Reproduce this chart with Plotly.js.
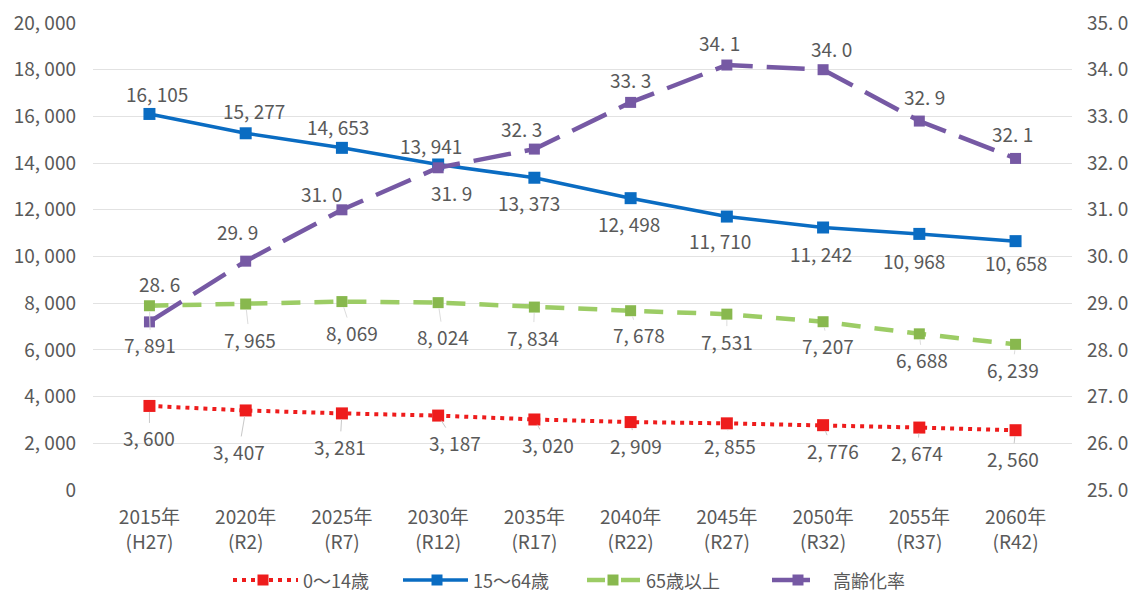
<!DOCTYPE html>
<html>
<head>
<meta charset="utf-8">
<script src="https://cdn.plot.ly/plotly-3.0.1.min.js"></script>
<style>
  html, body { margin: 0; padding: 0; background: #fff; }
  #chart { width: 1138px; height: 594px; }
</style>
</head>
<body>
<div id="chart"></div>
<script>
// 年次（上段：西暦、下段：和暦）
const years = ['2015年', '2020年', '2025年', '2030年', '2035年', '2040年', '2045年', '2050年', '2055年', '2060年'];
const eras = ['(H27)', '(R2)', '(R7)', '(R12)', '(R17)', '(R22)', '(R27)', '(R32)', '(R37)', '(R42)'];

// 年齢区分別人口（人）
const pop0to14 = [3600, 3407, 3281, 3187, 3020, 2909, 2855, 2776, 2674, 2560];
const pop15to64 = [16105, 15277, 14653, 13941, 13373, 12498, 11710, 11242, 10968, 10658];
const pop65plus = [7891, 7965, 8069, 8024, 7834, 7678, 7531, 7207, 6688, 6239];
// 高齢化率（％）
const agingRate = [28.6, 29.9, 31.0, 31.9, 32.3, 33.3, 34.1, 34.0, 32.9, 32.1];

const seriesNames = ['0～14歳', '15～64歳', '65歳以上', '高齢化率'];

// 左軸（人）・右軸（％）の目盛
const leftTicks = [0, 2000, 4000, 6000, 8000, 10000, 12000, 14000, 16000, 18000, 20000];
const rightTicks = [25, 26, 27, 28, 29, 30, 31, 32, 33, 34, 35];

// ---- 描画設定 ----
const W = 1138, H = 594;
const M = { l: 93, r: 66, t: 23, b: 104 };
const plotW = W - M.l - M.r, plotH = H - M.t - M.b;
const px2x = px => (px - M.l) / plotW;          // ページ座標 → paper x
const py2y = py => (H - M.b - py) / plotH;      // ページ座標 → paper y

const font = { family: '"Noto Sans CJK JP", "Noto Sans", sans-serif', color: '#595959', size: 19 };
const COLORS = { red: '#ee1c1c', blue: '#0a6cc2', green: '#9ccc65', greenMk: '#88b84e', purple: '#7659a4' };

const cats = years.map((y, i) => y + '<br>' + eras[i]);
const fmtInt = v => v.toLocaleString('en-US').replace(',', ', ');
const fmtDec = v => v.toFixed(1).replace('.', '. ');

// データラベルの位置ずらし（px、[右, 下]）
const offRed = [[0, 32], [-7, 41], [-2, 33], [17, 27], [14, 25], [5, 23], [3, 22], [10, 25], [-2, 25], [-3, 28]];
const offGreen = [[1, 39], [4, 35], [10, 31], [5, 34], [-1, 30], [8, 24], [0, 27], [5, 24], [3, 26], [-3, 25]];
const offBlue = [[8, -20], [8, -23], [-4, -21], [-7, -19], [-5, 25], [-2, 25], [-7, 24], [-2, 26], [-5, 27], [0, 21]];
const offPurple = [[10, -38], [-8, -30], [-20, -16], [13, 25], [-13, -21], [0, -23], [-7, -23], [8, -21], [5, -25], [-3, -25]];

const traces = [
  {
    x: cats, y: pop0to14, name: seriesNames[0], type: 'scatter', mode: 'lines+markers',
    line: { color: COLORS.red, width: 4, dash: '4px,5px' },
    marker: { symbol: 'square', size: 12, color: COLORS.red }
  },
  {
    x: cats, y: pop15to64, name: seriesNames[1], type: 'scatter', mode: 'lines+markers',
    line: { color: COLORS.blue, width: 3.5 },
    marker: { symbol: 'square', size: 12, color: COLORS.blue }
  },
  {
    x: cats, y: pop65plus, name: seriesNames[2], type: 'scatter', mode: 'lines+markers',
    line: { color: COLORS.green, width: 4.5, dash: '19px,14px' },
    marker: { symbol: 'square', size: 11, color: COLORS.greenMk }
  },
  {
    x: cats, y: agingRate, name: seriesNames[3], type: 'scatter', mode: 'lines+markers',
    yaxis: 'y2',
    line: { color: COLORS.purple, width: 4.5, dash: '38px,14px' },
    marker: { symbol: 'square', size: 11, color: COLORS.purple }
  }
];

// データラベル
const annotations = [];
function addLabels(values, offsets, fmt, yref, leader) {
  values.forEach((v, i) => {
    const [dx, dy] = offsets[i];
    const a = { x: cats[i], y: v, xref: 'x', yref: yref, text: fmt(v), font: font,
                xanchor: 'center', yanchor: 'middle' };
    if (leader) {
      Object.assign(a, { showarrow: true, ax: dx, ay: dy, arrowhead: 0, arrowwidth: 1,
                         arrowcolor: leader, standoff: 6 });
    } else {
      Object.assign(a, { showarrow: false, xshift: dx, yshift: -dy });
    }
    annotations.push(a);
  });
}
addLabels(pop0to14, offRed, fmtInt, 'y', '#c8c8c8');
addLabels(pop65plus, offGreen, fmtInt, 'y', '#dcdcdc');
addLabels(pop15to64, offBlue, fmtInt, 'y', null);
addLabels(agingRate, offPurple, fmtDec, 'y2', null);

// 凡例（線・マーカー・名称）
const legendY = 580;
const legendItems = [
  { segs: [[233, 298]], mk: 263, tx: 302, color: COLORS.red, mkColor: COLORS.red, width: 4, dash: '4px,5px' },
  { segs: [[403, 468]], mk: 437, tx: 472, color: COLORS.blue, mkColor: COLORS.blue, width: 3.5, dash: 'solid' },
  { segs: [[587, 605], [621, 640]], mk: 613, tx: 645, color: COLORS.green, mkColor: COLORS.greenMk, width: 4.5, dash: 'solid' },
  { segs: [[772, 810]], mk: 798, tx: 832, color: COLORS.purple, mkColor: COLORS.purple, width: 4.5, dash: 'solid' }
];
const shapes = [];
legendItems.forEach((it, k) => {
  it.segs.forEach(([a, b]) => shapes.push({
    type: 'line', xref: 'paper', yref: 'paper',
    x0: px2x(a), x1: px2x(b), y0: py2y(legendY), y1: py2y(legendY),
    line: { color: it.color, width: it.width, dash: it.dash }
  }));
  const s = 5.5;
  shapes.push({
    type: 'rect', xref: 'paper', yref: 'paper',
    x0: px2x(it.mk - s), x1: px2x(it.mk + s), y0: py2y(legendY + s), y1: py2y(legendY - s),
    line: { width: 0 }, fillcolor: it.mkColor
  });
  annotations.push({
    xref: 'paper', yref: 'paper', x: px2x(it.tx), y: py2y(legendY),
    xanchor: 'left', yanchor: 'middle', showarrow: false, borderpad: 0,
    text: seriesNames[k], font: Object.assign({}, font, { size: 18 })
  });
});

const layout = {
  width: W, height: H,
  margin: M,
  paper_bgcolor: '#fff', plot_bgcolor: '#fff',
  font: font,
  showlegend: false,
  xaxis: {
    type: 'category', showgrid: false, zeroline: false, showline: false,
    ticks: '', ticklabelstandoff: 14, tickfont: font, automargin: false, fixedrange: true
  },
  yaxis: {
    range: [0, 20000], tickvals: leftTicks, ticktext: leftTicks.map(fmtInt),
    showgrid: true, gridcolor: '#e2e2e2', gridwidth: 1.2, zeroline: false, showline: false,
    ticks: '', ticklabelstandoff: 16, tickfont: font, automargin: false
  },
  yaxis2: {
    overlaying: 'y', side: 'right', range: [25, 35], tickvals: rightTicks,
    ticktext: rightTicks.map(fmtDec), showgrid: false, zeroline: false, showline: false,
    ticks: '', ticklabelstandoff: 14, tickfont: font, automargin: false
  },
  shapes: shapes,
  annotations: annotations
};

Plotly.newPlot('chart', traces, layout, { displayModeBar: false, staticPlot: true });
</script>
</body>
</html>
